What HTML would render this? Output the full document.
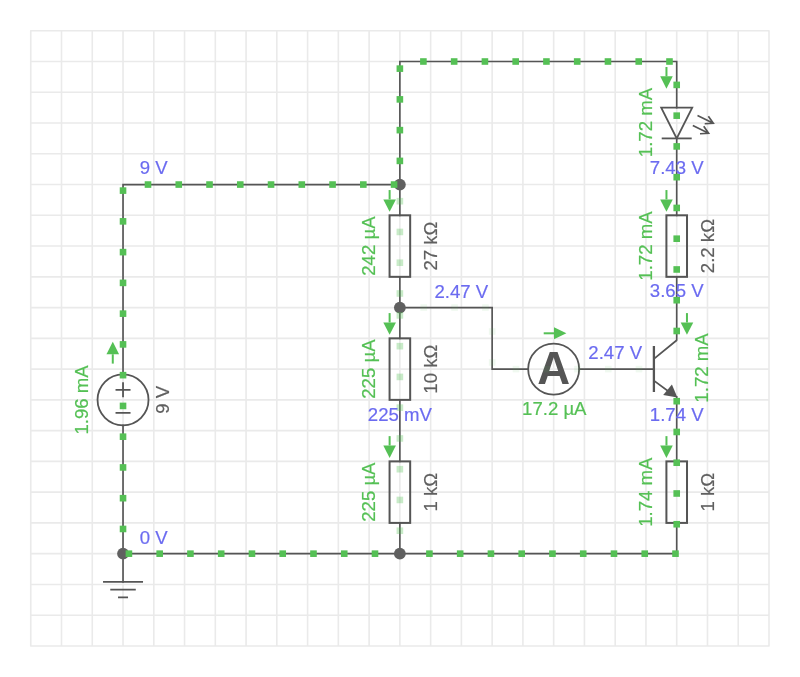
<!DOCTYPE html>
<html><head><meta charset="utf-8"><style>
html,body{margin:0;padding:0;background:#fff;width:800px;height:677px;overflow:hidden}
svg{display:block;will-change:transform}
text{font-family:"Liberation Sans",sans-serif;font-size:18.6px;stroke-width:0.2px}
</style></head><body>
<svg width="800" height="677" viewBox="0 0 800 677">
<path d="M30.75 30.75V645.95M61.51 30.75V645.95M92.27 30.75V645.95M123.03 30.75V645.95M153.79 30.75V645.95M184.55 30.75V645.95M215.31 30.75V645.95M246.07 30.75V645.95M276.83 30.75V645.95M307.59 30.75V645.95M338.35 30.75V645.95M369.11 30.75V645.95M399.87 30.75V645.95M430.63 30.75V645.95M461.39 30.75V645.95M492.15 30.75V645.95M522.91 30.75V645.95M553.67 30.75V645.95M584.43 30.75V645.95M615.19 30.75V645.95M645.95 30.75V645.95M676.71 30.75V645.95M707.47 30.75V645.95M738.23 30.75V645.95M768.99 30.75V645.95M30.75 30.75H768.99M30.75 61.51H768.99M30.75 92.27H768.99M30.75 123.03H768.99M30.75 153.79H768.99M30.75 184.55H768.99M30.75 215.31H768.99M30.75 246.07H768.99M30.75 276.83H768.99M30.75 307.59H768.99M30.75 338.35H768.99M30.75 369.11H768.99M30.75 399.87H768.99M30.75 430.63H768.99M30.75 461.39H768.99M30.75 492.15H768.99M30.75 522.91H768.99M30.75 553.67H768.99M30.75 584.43H768.99M30.75 615.19H768.99M30.75 645.95H768.99" stroke="#eaeaea" stroke-width="1.6" fill="none" stroke-linecap="round"/>
<path d="M123.03 374.37L123.03 184.55M123.03 184.55L399.87 184.55M399.87 184.55L399.87 61.51M399.87 61.51L676.71 61.51M676.71 61.51L676.71 107.65M676.71 138.41L676.71 215.31M676.71 276.83L676.71 339.85M676.71 396.87L676.71 461.39M676.71 522.91L676.71 553.67M676.71 553.67L123.03 553.67M123.03 553.67L123.03 425.37M123.03 553.67L123.03 581.80M399.87 184.55L399.87 215.31M399.87 276.83L399.87 338.35M399.87 399.87L399.87 461.39M399.87 522.91L399.87 553.67M399.87 307.59L492.15 307.59M492.15 307.59L492.15 369.11M492.15 369.11L528.17 369.11M579.17 369.11L653.70 369.11" stroke="#555555" stroke-width="1.65" fill="none" stroke-linecap="square"/>
<rect x="389.57" y="215.31" width="20.6" height="61.52" fill="none" stroke="#555555" stroke-width="2"/>
<rect x="389.57" y="338.35" width="20.6" height="61.52" fill="none" stroke="#555555" stroke-width="2"/>
<rect x="389.57" y="461.39" width="20.6" height="61.52" fill="none" stroke="#555555" stroke-width="2"/>
<rect x="666.41" y="215.31" width="20.6" height="61.52" fill="none" stroke="#555555" stroke-width="2"/>
<rect x="666.41" y="461.39" width="20.6" height="61.52" fill="none" stroke="#555555" stroke-width="2"/>
<circle cx="399.87" cy="184.55" r="5.9" fill="#606060"/>
<circle cx="399.87" cy="307.59" r="5.9" fill="#606060"/>
<circle cx="399.87" cy="553.67" r="5.9" fill="#606060"/>
<circle cx="123.03" cy="553.67" r="5.9" fill="#606060"/>
<circle cx="123.03" cy="399.87" r="25.5" fill="none" stroke="#555555" stroke-width="1.8"/>
<path d="M115.53 389.87H130.53M123.03 382.37V397.37M115.53 412.97H130.53" stroke="#555555" stroke-width="1.8"/>
<path d="M103.03 581.80H143.03M110.28 589.60H135.78M118.03 597.40H128.03" stroke="#555555" stroke-width="1.8"/>
<circle cx="553.67" cy="369.11" r="25.5" fill="none" stroke="#555555" stroke-width="1.8"/>
<text x="553.67" y="384.11" style="font-size:45.5px;font-weight:bold" text-anchor="middle" fill="#555555">A</text>
<path d="M661.21 107.65H692.21L676.71 138.41Z" fill="none" stroke="#555555" stroke-width="1.8" stroke-linejoin="miter"/>
<path d="M661.71 138.41H691.71" stroke="#555555" stroke-width="1.8"/>
<path d="M697.50 115.60L713.30 123.20M704.72 123.73L713.30 123.20L708.36 116.16M692.80 125.50L708.60 133.30M700.02 133.75L708.60 133.30L703.73 126.21" stroke="#555555" stroke-width="1.7" fill="none"/>
<path d="M653.90 346V392" stroke="#555555" stroke-width="2.3"/>
<path d="M653.90 358.9L676.71 340.3M653.90 380.6L672.71 394.5" stroke="#555555" stroke-width="1.8"/>
<path d="M677.4 397.4L663.2 394.9L671.9 384.5Z" fill="#555555"/>
<rect x="119.73" y="187.30" width="6.6" height="6.6" fill="#55c055"/><rect x="119.73" y="218.06" width="6.6" height="6.6" fill="#55c055"/><rect x="119.73" y="248.82" width="6.6" height="6.6" fill="#55c055"/><rect x="119.73" y="279.58" width="6.6" height="6.6" fill="#55c055"/><rect x="119.73" y="310.34" width="6.6" height="6.6" fill="#55c055"/><rect x="119.73" y="341.10" width="6.6" height="6.6" fill="#55c055"/><rect x="119.73" y="371.86" width="6.6" height="6.6" fill="#55c055"/><rect x="119.73" y="402.62" width="6.6" height="6.6" fill="#55c055"/><rect x="119.73" y="433.38" width="6.6" height="6.6" fill="#55c055"/><rect x="119.73" y="464.14" width="6.6" height="6.6" fill="#55c055"/><rect x="119.73" y="494.90" width="6.6" height="6.6" fill="#55c055"/><rect x="119.73" y="525.66" width="6.6" height="6.6" fill="#55c055"/><rect x="144.70" y="181.25" width="6.6" height="6.6" fill="#55c055"/><rect x="175.46" y="181.25" width="6.6" height="6.6" fill="#55c055"/><rect x="206.22" y="181.25" width="6.6" height="6.6" fill="#55c055"/><rect x="236.98" y="181.25" width="6.6" height="6.6" fill="#55c055"/><rect x="267.74" y="181.25" width="6.6" height="6.6" fill="#55c055"/><rect x="298.50" y="181.25" width="6.6" height="6.6" fill="#55c055"/><rect x="329.26" y="181.25" width="6.6" height="6.6" fill="#55c055"/><rect x="360.02" y="181.25" width="6.6" height="6.6" fill="#55c055"/><rect x="390.78" y="181.25" width="6.6" height="6.6" fill="#55c055"/><rect x="396.57" y="157.60" width="6.6" height="6.6" fill="#55c055"/><rect x="396.57" y="126.84" width="6.6" height="6.6" fill="#55c055"/><rect x="396.57" y="96.08" width="6.6" height="6.6" fill="#55c055"/><rect x="396.57" y="65.32" width="6.6" height="6.6" fill="#55c055"/><rect x="420.10" y="58.21" width="6.6" height="6.6" fill="#55c055"/><rect x="450.86" y="58.21" width="6.6" height="6.6" fill="#55c055"/><rect x="481.62" y="58.21" width="6.6" height="6.6" fill="#55c055"/><rect x="512.38" y="58.21" width="6.6" height="6.6" fill="#55c055"/><rect x="543.14" y="58.21" width="6.6" height="6.6" fill="#55c055"/><rect x="573.90" y="58.21" width="6.6" height="6.6" fill="#55c055"/><rect x="604.66" y="58.21" width="6.6" height="6.6" fill="#55c055"/><rect x="635.42" y="58.21" width="6.6" height="6.6" fill="#55c055"/><rect x="666.18" y="58.21" width="6.6" height="6.6" fill="#55c055"/><rect x="673.41" y="81.60" width="6.6" height="6.6" fill="#55c055"/><rect x="673.41" y="112.36" width="6.6" height="6.6" fill="#55c055"/><rect x="673.41" y="143.12" width="6.6" height="6.6" fill="#55c055"/><rect x="673.41" y="173.88" width="6.6" height="6.6" fill="#55c055"/><rect x="673.41" y="204.64" width="6.6" height="6.6" fill="#55c055"/><rect x="673.41" y="235.40" width="6.6" height="6.6" fill="#55c055"/><rect x="673.41" y="266.16" width="6.6" height="6.6" fill="#55c055"/><rect x="673.41" y="296.92" width="6.6" height="6.6" fill="#55c055"/><rect x="673.41" y="327.68" width="6.6" height="6.6" fill="#55c055"/><rect x="673.41" y="397.90" width="6.6" height="6.6" fill="#55c055"/><rect x="673.41" y="428.66" width="6.6" height="6.6" fill="#55c055"/><rect x="673.41" y="459.42" width="6.6" height="6.6" fill="#55c055"/><rect x="673.41" y="490.18" width="6.6" height="6.6" fill="#55c055"/><rect x="673.41" y="520.94" width="6.6" height="6.6" fill="#55c055"/><rect x="672.20" y="550.37" width="6.6" height="6.6" fill="#55c055"/><rect x="641.44" y="550.37" width="6.6" height="6.6" fill="#55c055"/><rect x="610.68" y="550.37" width="6.6" height="6.6" fill="#55c055"/><rect x="579.92" y="550.37" width="6.6" height="6.6" fill="#55c055"/><rect x="549.16" y="550.37" width="6.6" height="6.6" fill="#55c055"/><rect x="518.40" y="550.37" width="6.6" height="6.6" fill="#55c055"/><rect x="487.64" y="550.37" width="6.6" height="6.6" fill="#55c055"/><rect x="456.88" y="550.37" width="6.6" height="6.6" fill="#55c055"/><rect x="426.12" y="550.37" width="6.6" height="6.6" fill="#55c055"/><rect x="371.70" y="550.37" width="6.6" height="6.6" fill="#55c055"/><rect x="340.94" y="550.37" width="6.6" height="6.6" fill="#55c055"/><rect x="310.18" y="550.37" width="6.6" height="6.6" fill="#55c055"/><rect x="279.42" y="550.37" width="6.6" height="6.6" fill="#55c055"/><rect x="248.66" y="550.37" width="6.6" height="6.6" fill="#55c055"/><rect x="217.90" y="550.37" width="6.6" height="6.6" fill="#55c055"/><rect x="187.14" y="550.37" width="6.6" height="6.6" fill="#55c055"/><rect x="156.38" y="550.37" width="6.6" height="6.6" fill="#55c055"/><rect x="125.62" y="550.37" width="6.6" height="6.6" fill="#55c055"/><rect x="396.57" y="197.90" width="6.6" height="6.6" fill="#55c055" fill-opacity="0.32"/><rect x="396.57" y="228.66" width="6.6" height="6.6" fill="#55c055" fill-opacity="0.32"/><rect x="396.57" y="259.42" width="6.6" height="6.6" fill="#55c055" fill-opacity="0.32"/><rect x="396.57" y="290.18" width="6.6" height="6.6" fill="#55c055" fill-opacity="0.32"/><rect x="396.57" y="312.10" width="6.6" height="6.6" fill="#55c055" fill-opacity="0.32"/><rect x="396.57" y="342.86" width="6.6" height="6.6" fill="#55c055" fill-opacity="0.32"/><rect x="396.57" y="373.62" width="6.6" height="6.6" fill="#55c055" fill-opacity="0.32"/><rect x="396.57" y="404.38" width="6.6" height="6.6" fill="#55c055" fill-opacity="0.32"/><rect x="396.57" y="435.14" width="6.6" height="6.6" fill="#55c055" fill-opacity="0.32"/><rect x="396.57" y="465.90" width="6.6" height="6.6" fill="#55c055" fill-opacity="0.32"/><rect x="396.57" y="496.66" width="6.6" height="6.6" fill="#55c055" fill-opacity="0.32"/><rect x="396.57" y="527.42" width="6.6" height="6.6" fill="#55c055" fill-opacity="0.32"/><rect x="420.45" y="304.29" width="6.6" height="6.6" fill="#55c055" fill-opacity="0.09"/><rect x="451.30" y="304.29" width="6.6" height="6.6" fill="#55c055" fill-opacity="0.09"/><rect x="482.10" y="304.29" width="6.6" height="6.6" fill="#55c055" fill-opacity="0.09"/><rect x="488.85" y="328.20" width="6.6" height="6.6" fill="#55c055" fill-opacity="0.09"/><rect x="488.85" y="359.10" width="6.6" height="6.6" fill="#55c055" fill-opacity="0.09"/><rect x="512.70" y="365.81" width="6.6" height="6.6" fill="#55c055" fill-opacity="0.09"/><rect x="543.50" y="365.81" width="6.6" height="6.6" fill="#55c055" fill-opacity="0.09"/><rect x="574.20" y="365.81" width="6.6" height="6.6" fill="#55c055" fill-opacity="0.09"/><rect x="605.00" y="365.81" width="6.6" height="6.6" fill="#55c055" fill-opacity="0.09"/><rect x="635.70" y="365.81" width="6.6" height="6.6" fill="#55c055" fill-opacity="0.09"/>
<path d="M389.62 190.05V199.41" stroke="#55c055" stroke-width="2"/><path d="M383.32 199.41H395.92L389.62 211.81Z" fill="#55c055"/>
<path d="M389.62 313.09V322.45" stroke="#55c055" stroke-width="2"/><path d="M383.32 322.45H395.92L389.62 334.85Z" fill="#55c055"/>
<path d="M389.62 436.13V445.49" stroke="#55c055" stroke-width="2"/><path d="M383.32 445.49H395.92L389.62 457.89Z" fill="#55c055"/>
<path d="M666.46 67.01V76.37" stroke="#55c055" stroke-width="2"/><path d="M660.16 76.37H672.76L666.46 88.77Z" fill="#55c055"/>
<path d="M666.46 190.05V199.41" stroke="#55c055" stroke-width="2"/><path d="M660.16 199.41H672.76L666.46 211.81Z" fill="#55c055"/>
<path d="M666.46 436.13V445.49" stroke="#55c055" stroke-width="2"/><path d="M660.16 445.49H672.76L666.46 457.89Z" fill="#55c055"/>
<path d="M686.96 313.09V322.45" stroke="#55c055" stroke-width="2"/><path d="M680.66 322.45H693.26L686.96 334.85Z" fill="#55c055"/>
<path d="M112.78 363.61V354.25" stroke="#55c055" stroke-width="2"/><path d="M106.48 354.25H119.08L112.78 341.85Z" fill="#55c055"/>
<path d="M543.7 333.3H554" stroke="#55c055" stroke-width="2"/><path d="M554 327.3V339.3L566.4 333.3Z" fill="#55c055"/>
<text x="153.79" y="174.10" text-anchor="middle" fill="#6b6bf0" stroke="#6b6bf0">9 V</text>
<text x="153.79" y="543.50" text-anchor="middle" fill="#6b6bf0" stroke="#6b6bf0">0 V</text>
<text x="461.39" y="297.50" text-anchor="middle" fill="#6b6bf0" stroke="#6b6bf0">2.47 V</text>
<text x="615.19" y="358.50" text-anchor="middle" fill="#6b6bf0" stroke="#6b6bf0">2.47 V</text>
<text x="676.71" y="174.30" text-anchor="middle" fill="#6b6bf0" stroke="#6b6bf0">7.43 V</text>
<text x="676.71" y="297.40" text-anchor="middle" fill="#6b6bf0" stroke="#6b6bf0">3.65 V</text>
<text x="676.71" y="420.70" text-anchor="middle" fill="#6b6bf0" stroke="#6b6bf0">1.74 V</text>
<text x="399.87" y="421.00" text-anchor="middle" fill="#6b6bf0" stroke="#6b6bf0">225 mV</text>
<text transform="translate(375.07 246.07) rotate(-90)" text-anchor="middle" fill="#55c055" stroke="#55c055">242 µA</text>
<text transform="translate(375.07 369.11) rotate(-90)" text-anchor="middle" fill="#55c055" stroke="#55c055">225 µA</text>
<text transform="translate(375.07 492.15) rotate(-90)" text-anchor="middle" fill="#55c055" stroke="#55c055">225 µA</text>
<text transform="translate(652.11 122.53) rotate(-90)" text-anchor="middle" fill="#55c055" stroke="#55c055">1.72 mA</text>
<text transform="translate(652.11 246.07) rotate(-90)" text-anchor="middle" fill="#55c055" stroke="#55c055">1.72 mA</text>
<text transform="translate(652.11 492.15) rotate(-90)" text-anchor="middle" fill="#55c055" stroke="#55c055">1.74 mA</text>
<text transform="translate(708.11 368.00) rotate(-90)" text-anchor="middle" fill="#55c055" stroke="#55c055">1.72 mA</text>
<text transform="translate(88.13 399.87) rotate(-90)" text-anchor="middle" fill="#55c055" stroke="#55c055">1.96 mA</text>
<text transform="translate(436.77 246.07) rotate(-90)" text-anchor="middle" fill="#5f5f5f" stroke="#5f5f5f">27 kΩ</text>
<text transform="translate(436.77 369.11) rotate(-90)" text-anchor="middle" fill="#5f5f5f" stroke="#5f5f5f">10 kΩ</text>
<text transform="translate(436.77 492.15) rotate(-90)" text-anchor="middle" fill="#5f5f5f" stroke="#5f5f5f">1 kΩ</text>
<text transform="translate(713.61 246.07) rotate(-90)" text-anchor="middle" fill="#5f5f5f" stroke="#5f5f5f">2.2 kΩ</text>
<text transform="translate(713.61 492.15) rotate(-90)" text-anchor="middle" fill="#5f5f5f" stroke="#5f5f5f">1 kΩ</text>
<text transform="translate(168.83 399.87) rotate(-90)" text-anchor="middle" fill="#5f5f5f" stroke="#5f5f5f">9 V</text>
<text x="554.3" y="414.6" text-anchor="middle" fill="#55c055" stroke="#55c055">17.2 µA</text>
</svg></body></html>
